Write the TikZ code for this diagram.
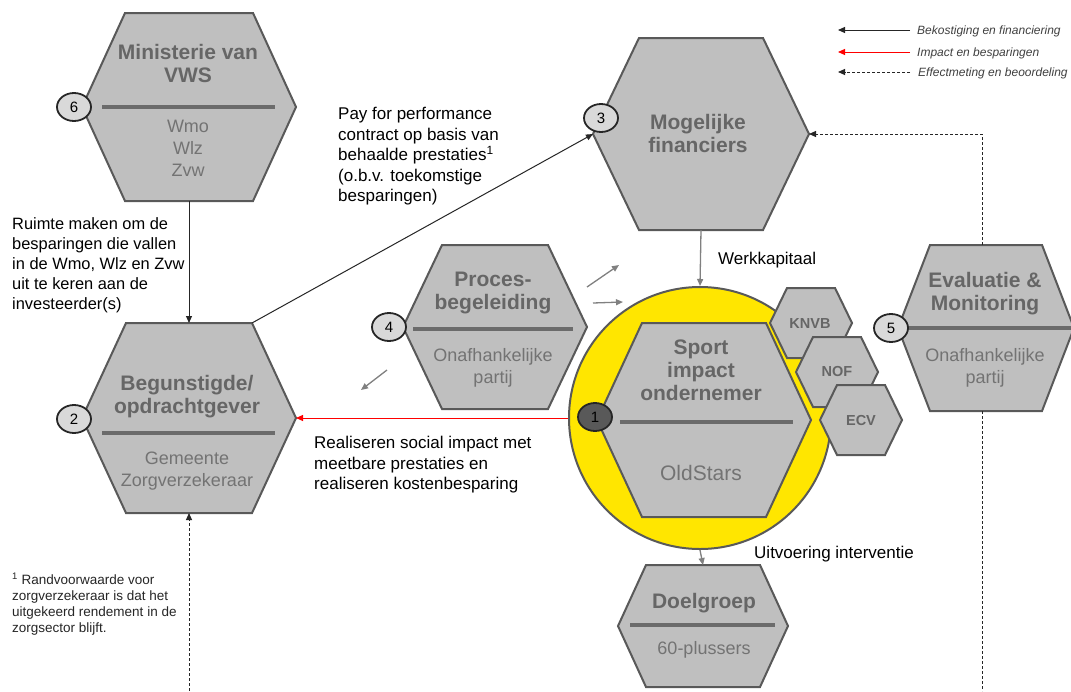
\documentclass[tikz,border=0pt]{standalone}
\usepackage{fontspec}
\setmainfont{Liberation Sans}
\usetikzlibrary{arrows.meta,shapes.geometric}
\definecolor{hexfill}{HTML}{BFBFBF}
\definecolor{hexdraw}{HTML}{595959}
\definecolor{sepcol}{HTML}{6B6B6B}
\definecolor{titlecol}{HTML}{666666}
\definecolor{subcol}{HTML}{737373}
\definecolor{ringyel}{HTML}{FFE600}
\definecolor{numfill}{HTML}{D9D9D9}
\definecolor{numdraw}{HTML}{262626}
\definecolor{onefill}{HTML}{595959}
\definecolor{arrgray}{HTML}{808080}
\definecolor{legtext}{HTML}{404040}
\definecolor{linecol}{HTML}{262626}
\newcommand\myhex[6]{%
  \draw[hexshape] ({#2-#4},#3) -- ({#2-#5},{#3-#6}) -- ({#2+#5},{#3-#6}) -- ({#2+#4},#3) -- ({#2+#5},{#3+#6}) -- ({#2-#5},{#3+#6}) -- cycle;
  \coordinate (#1-l) at ({#2-#4},#3);
  \coordinate (#1-r) at ({#2+#4},#3);
  \coordinate (#1-t) at (#2,{#3-#6});
  \coordinate (#1-b) at (#2,{#3+#6});
  \coordinate (#1-tr) at ({#2+#5},{#3-#6});
}
\newcommand\mysep[3]{\draw[sepline] (#1,#3) -- (#2,#3);}
\begin{document}
\begin{tikzpicture}[x=1pt,y=-1pt,
  hexshape/.style={fill=hexfill,draw=hexdraw,line width=2pt},
  sepline/.style={draw=sepcol,line width=3.5pt},
  title/.style={font=\fontsize{21}{23}\selectfont\bfseries,text=titlecol,align=center,inner sep=0pt},
  smalltitle/.style={font=\fontsize{14.5}{16}\selectfont\bfseries,text=titlecol,align=center,inner sep=0pt},
  sub/.style={font=\fontsize{18}{22}\selectfont,text=subcol,align=center,inner sep=0pt},
  numc/.style={ellipse,draw=numdraw,fill=numfill,line width=1.8pt,minimum width=34pt,minimum height=28pt,inner sep=0pt,font=\fontsize{15}{15}\selectfont},
  lbl/.style={font=\fontsize{17}{20.5}\selectfont,align=left,text=black,inner sep=0pt},
  foot/.style={font=\fontsize{13.5}{16}\selectfont,align=left,text=black!85,inner sep=0pt},
  legend/.style={font=\fontsize{12}{14}\selectfont\itshape,text=legtext,inner sep=0pt},
  blackarrow/.style={draw=linecol,line width=1pt,-{Triangle[length=7pt,width=6pt]}},
  redarrow/.style={draw=red,line width=1pt,-{Triangle[length=7pt,width=6pt]}},
  dasharrow/.style={draw=linecol,line width=1pt,dash pattern=on 3pt off 2pt,-{Triangle[length=7pt,width=6pt]}},
  dashline/.style={draw=linecol,line width=1pt,dash pattern=on 3pt off 2pt},
  grayarrow/.style={draw=arrgray,line width=1.3pt,-{Triangle[length=7pt,width=6pt]}}
]
\useasboundingbox (0,0) rectangle (1071,691);
\fill[white] (0,0) rectangle (1071,691);

% hexagons
\myhex{vws}{189}{107}{107}{64}{94}
\mysep{102}{275}{107}
\myhex{beg}{189}{418}{107}{63}{95}
\mysep{102}{275}{433}
\myhex{fin}{701}{134}{108}{62}{96}
\myhex{pro}{495}{327}{92}{53}{82}
\mysep{413}{573}{329}
\myhex{eva}{986}{328}{88}{56}{83}
\mysep{907}{1071}{328}
\myhex{doel}{703}{626}{85}{57}{61}
\mysep{630}{775}{625}

% ring with sport impact ondernemer
\node[circle,fill=ringyel,draw=hexdraw,line width=2pt,minimum size=262pt,inner sep=0pt] (ring) at (700,418) {};
\myhex{sio}{704}{420}{107}{62}{97}
\mysep{620}{793}{422}
\myhex{knvb}{811}{323}{41}{24}{35}
\myhex{nof}{837}{372}{41}{24}{35}
\myhex{ecv}{861}{420}{41}{24}{35}

% texts in hexagons
\node[title] (vwsT) at (188,63) {Ministerie van\\VWS};
\node[sub] (vwsS) at (188,148) {Wmo\\Wlz\\Zvw};
\node[title] (begT) at (187,397) {Begunstigde/\\opdrachtgever};
\node[sub] (begS) at (187,471) {Gemeente\\Zorgverzekeraar};
\node[title] (finT) at (698,133) {Mogelijke\\financiers};
\node[title] (proT) at (493,293) {Proces-\\begeleiding};
\node[sub] (proS) at (493,368) {Onafhankelijke\\partij};
\node[title] (sioT) at (701,370) {Sport\\impact\\ondernemer};
\node[font=\fontsize{21}{23}\selectfont,text=subcol,inner sep=0pt] (sioS) at (701,473) {OldStars};
\node[title] (evaT) at (985,294) {Evaluatie \&\\Monitoring};
\node[sub] (evaS) at (985,368) {Onafhankelijke\\partij};
\node[title] (doelT) at (704,603) {Doelgroep};
\node[sub] (doelS) at (704,650) {60-plussers};
\node[smalltitle] (knvbT) at (810,324) {KNVB};
\node[smalltitle] (nofT) at (837,372) {NOF};
\node[smalltitle] (ecvT) at (861,421) {ECV};

% number badges
\node[numc] (n6) at (74,107) {6};
\node[numc] (n2) at (74,419) {2};
\node[numc] (n3) at (601,118) {3};
\node[numc] (n4) at (389,327) {4};
\node[numc] (n5) at (891,328) {5};
\node[numc,fill=onefill] (n1) at (595,417) {1};

% connectors
\draw[blackarrow] (vws-b) -- (beg-t);
\draw[blackarrow] (beg-tr) -- (fin-l);
\draw[redarrow] (ring.west) -- (beg-r);
\draw[grayarrow] (fin-b) -- (ring.north);
\draw[grayarrow] (ring.south) -- (doel-t);
\coordinate (evtop) at (982,245);
\coordinate (evbot) at (982,411);
\coordinate (botR) at (982,691);
\coordinate (botL) at (189,691);
\draw[dasharrow] (evtop) |- (fin-r);
\draw[dashline] (evbot) -- (botR);
\draw[dasharrow] (botL) -- (beg-b);

% small gray arrows around Procesbegeleiding
\coordinate (ga1s) at (587,287); \coordinate (ga1e) at (619,265);
\coordinate (ga2s) at (593,303); \coordinate (ga2e) at (623,302);
\coordinate (ga3s) at (387,370); \coordinate (ga3e) at (361,390);
\draw[grayarrow] (ga1s) -- (ga1e);
\draw[grayarrow] (ga2s) -- (ga2e);
\draw[grayarrow] (ga3s) -- (ga3e);

% labels
\node[lbl,font=\fontsize{16.4}{20}\selectfont,anchor=north west] (ruimte) at (12,217) {Ruimte maken om de\\besparingen die vallen\\in de Wmo, Wlz en Zvw\\uit te keren aan de\\investeerder(s)};
\node[lbl,anchor=north west] (pay) at (338,107) {Pay for performance\\contract op basis van\\behaalde prestaties\textsuperscript{1}\\(o.b.v. toekomstige\\besparingen)};
\node[lbl,anchor=north west] (real) at (314,436) {Realiseren social impact met\\meetbare prestaties en\\realiseren kostenbesparing};
\node[lbl,anchor=west] (werk) at (718,260) {Werkkapitaal};
\node[lbl,anchor=west] (uitv) at (754,554) {Uitvoering interventie};
\node[foot,anchor=north west] (fn) at (12,573) {\textsuperscript{1} Randvoorwaarde voor\\zorgverzekeraar is dat het\\uitgekeerd rendement in de\\zorgsector blijft.};

% legend
\coordinate (lg1a) at (910,30); \coordinate (lg1b) at (838,30);
\coordinate (lg2a) at (910,52); \coordinate (lg2b) at (838,52);
\coordinate (lg3a) at (910,72); \coordinate (lg3b) at (838,72);
\draw[blackarrow] (lg1a) -- (lg1b);
\draw[redarrow] (lg2a) -- (lg2b);
\draw[dasharrow] (lg3a) -- (lg3b);
\node[legend,anchor=west] (lgt1) at (917,31) {Bekostiging en financiering};
\node[legend,anchor=west] (lgt2) at (917,53) {Impact en besparingen};
\node[legend,anchor=west] (lgt3) at (918,73) {Effectmeting en beoordeling};
\end{tikzpicture}
\end{document}
